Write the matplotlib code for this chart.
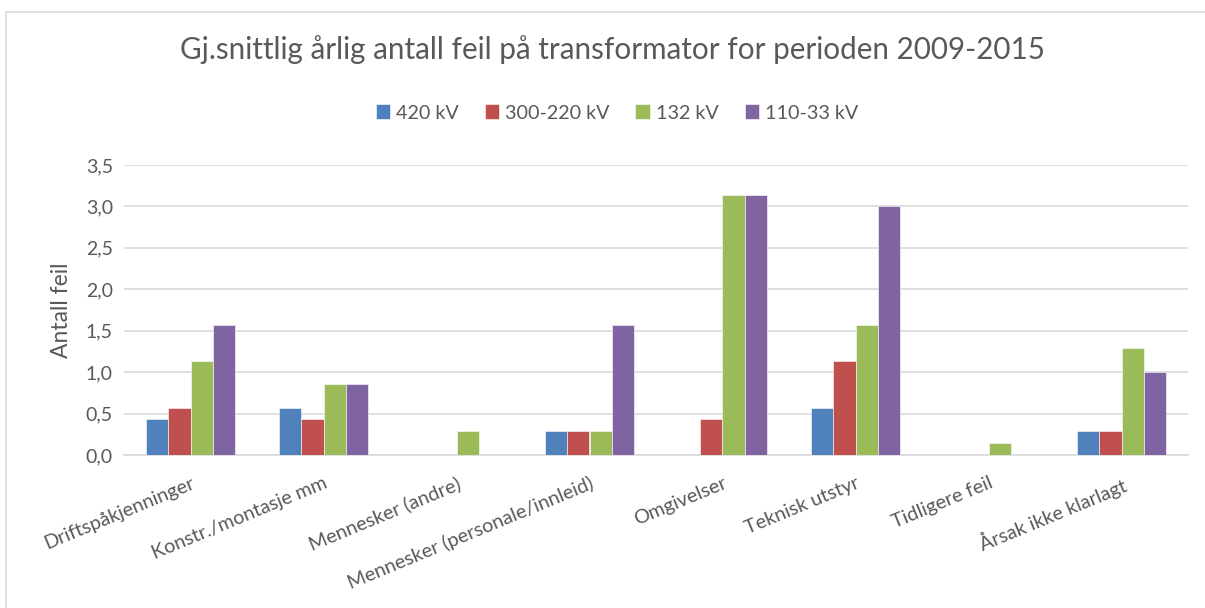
import matplotlib
matplotlib.use("Agg")
import matplotlib.pyplot as plt
import numpy as np
from matplotlib.patches import Rectangle

categories = ["Driftspåkjenninger", "Konstr./montasje mm", "Mennesker (andre)",
              "Mennesker (personale/innleid)", "Omgivelser", "Teknisk utstyr",
              "Tidligere feil", "Årsak ikke klarlagt"]
series_names = ["420 kV", "300-220 kV", "132 kV", "110-33 kV"]
v420 = [0.43, 0.57, 0.0, 0.29, 0.0, 0.57, 0.0, 0.29]
v300 = [0.57, 0.43, 0.0, 0.29, 0.43, 1.14, 0.0, 0.29]
v132 = [1.14, 0.86, 0.29, 0.29, 3.14, 1.57, 0.14, 1.29]
v110 = [1.57, 0.86, 0.0, 1.57, 3.14, 3.00, 0.0, 1.00]
yticks = [0.0, 0.5, 1.0, 1.5, 2.0, 2.5, 3.0, 3.5]
ytick_labels = ["0,0", "0,5", "1,0", "1,5", "2,0", "2,5", "3,0", "3,5"]
colors = ["#4F81BD", "#C0504D", "#9BBB59", "#8064A2"]

plt.rcParams['font.family'] = ['Lato', 'DejaVu Sans']
txt = "#595959"

fig = plt.figure(figsize=(12.05, 6.08), dpi=100)
W, H = 1205, 608
fig.patches.append(Rectangle((6 / W, -0.1), 1.2, (608 - 12) / H + 0.1, transform=fig.transFigure,
                             fill=False, edgecolor="#D9D9D9", linewidth=1.2))
ax = fig.add_axes([124 / W, 1 - 455 / H, (1188 - 124) / W, (455 - 165) / H])

x = np.arange(len(categories))
bw = 1 / 6
for i, (vals, name) in enumerate(zip([v420, v300, v132, v110], series_names)):
    ax.bar(x + (i - 1.5) * bw, vals, width=bw, color=colors[i], label=name, zorder=3,
           edgecolor="white", linewidth=0.4)

ax.set_xlim(-0.5, len(categories) - 0.5)
ax.set_ylim(0, 3.5)
ax.set_yticks(yticks)
ax.set_yticklabels(ytick_labels, fontsize=14, color=txt)
ax.set_xticks(x)
ax.set_xticklabels(categories, rotation=22.5, ha="right", rotation_mode="anchor",
                   fontsize=14.2, color=txt)
ax.tick_params(axis="both", length=0, pad=8)
ax.tick_params(axis="x", pad=14)
ax.grid(axis="y", color="#D9D9D9", linewidth=1.2, zorder=0)
for s in ["top", "right", "left"]:
    ax.spines[s].set_visible(False)
ax.spines["bottom"].set_color("#D9D9D9")
ax.spines["bottom"].set_linewidth(1.2)
ax.set_ylabel("Antall feil", fontsize=16.5, color=txt, labelpad=10)

fig.text(612 / W, 1 - 50 / H, "Gj.snittlig årlig antall feil på transformator for perioden 2009-2015",
         ha="center", va="center", fontsize=21.3, color=txt)
fig.legend(loc="center", bbox_to_anchor=(617 / W, 1 - 113 / H), ncol=4, frameon=False,
           fontsize=14.2, labelcolor=txt, handlelength=0.75, handleheight=0.75,
           handletextpad=0.3, columnspacing=1.3)

fig.savefig("out.png", dpi=100)
